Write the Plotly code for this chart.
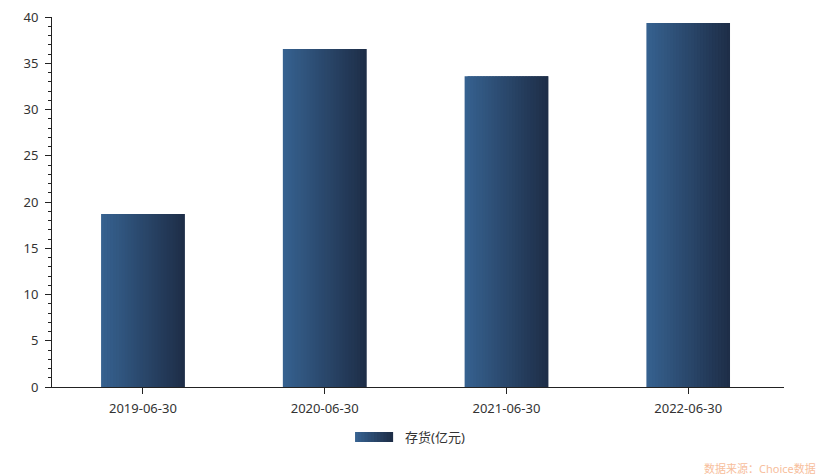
import plotly.graph_objects as go

categories = ["2019-06-30", "2020-06-30", "2021-06-30", "2022-06-30"]
values = [18.7, 36.55, 33.6, 39.35]
series_name = "存货(亿元)"
y_ticks = [0, 5, 10, 15, 20, 25, 30, 35, 40]

c_left = (54, 97, 143)
c_right = (30, 46, 72)
N = 28
bar_w = 0.46

def mix(t):
    return "rgb(%d,%d,%d)" % tuple(round(a + (b - a) * t) for a, b in zip(c_left, c_right))

fig = go.Figure()
step = bar_w / N
for i in range(N):
    w = step * (2 if i < N - 1 else 1)
    fig.add_trace(go.Bar(
        x=categories, y=values, name=series_name,
        width=[w] * len(categories), offset=[-bar_w / 2 + i * step] * len(categories),
        marker=dict(color=mix(i / (N - 1)), line=dict(width=0)),
        showlegend=False, hoverinfo="x+y",
    ))

font = "Noto Sans, Noto Sans CJK SC, sans-serif"
shapes = []
L = 12
lx0, lx1 = 0.414, 0.466
for i in range(L):
    a = lx0 + (lx1 - lx0) * i / L
    b = lx0 + (lx1 - lx0) * (i + 1.5) / L if i < L - 1 else lx1
    shapes.append(dict(type="rect", xref="paper", yref="paper", x0=a, x1=b,
                       y0=-0.1486, y1=-0.1216, fillcolor=mix(i / (L - 1)),
                       line=dict(width=0), layer="above"))

fig.update_layout(
    width=831, height=475,
    margin=dict(l=52, r=47, t=17, b=88, autoexpand=False),
    plot_bgcolor="white", paper_bgcolor="white",
    barmode="overlay",
    font=dict(family=font, size=12, color="#333333"),
    showlegend=False,
    xaxis=dict(type="category", range=[-0.5, 3.527], showline=True, linecolor="#222222",
               linewidth=1, ticks="outside", ticklen=6, tickcolor="#222222", ticklabelstandoff=3,
               showgrid=False, zeroline=False, tickfont=dict(size=13, color="#333333")),
    yaxis=dict(range=[0, 40], tickvals=y_ticks, showline=True, linecolor="#222222",
               linewidth=1, ticks="outside", ticklen=6, tickcolor="#222222", ticklabelstandoff=4,
               showgrid=False, zeroline=False, tickfont=dict(size=13, color="#333333"),
               minor=dict(ticks="outside", ticklen=3, dtick=1, tickcolor="#222222", showgrid=False)),
    shapes=shapes,
    annotations=[
        dict(text=series_name, xref="paper", yref="paper", x=0.480, y=-0.135,
             xanchor="left", yanchor="middle", showarrow=False,
             font=dict(size=13, color="#333333", family=font)),
        dict(text="数据来源：Choice数据", xref="paper", yref="paper", x=1.046, y=-0.219,
             xanchor="right", yanchor="middle", showarrow=False,
             font=dict(size=11, color="#F7BE9C", family=font)),
    ],
)

fig.write_html("out.html", config={"displayModeBar": False},
               post_script="document.body.style.margin='0';document.body.style.overflow='hidden';")
